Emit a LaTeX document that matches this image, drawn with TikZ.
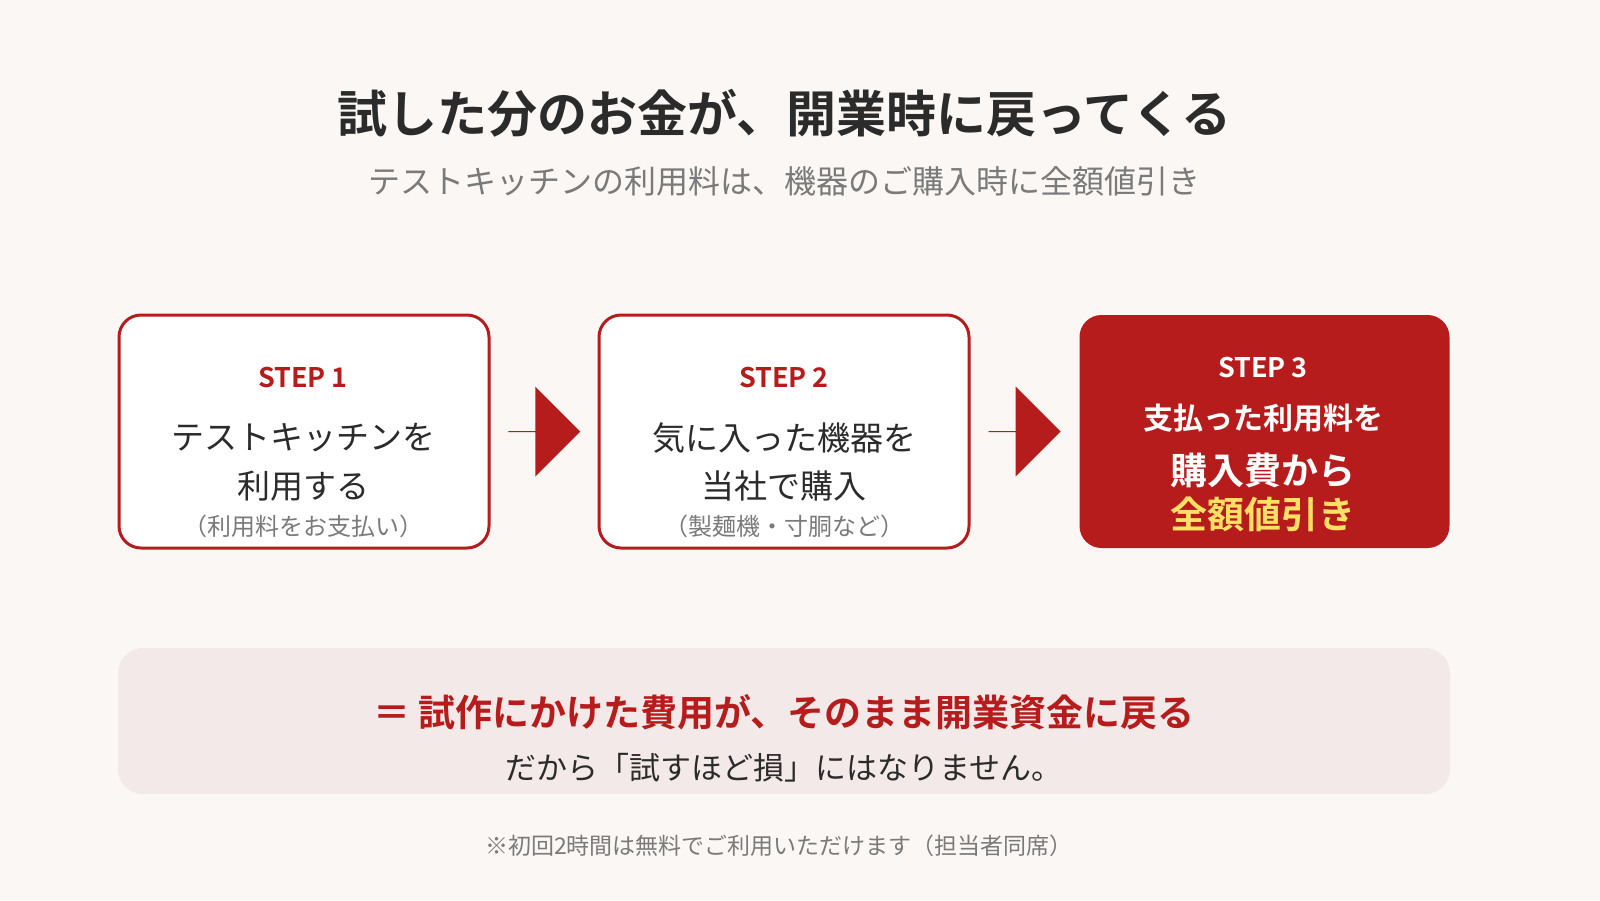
\documentclass[tikz,border=0pt]{standalone}
\usepackage{fontspec}
\setmainfont{Noto Sans CJK JP}[BoldFont={Noto Sans CJK JP Bold}]
\usetikzlibrary{positioning}
\usetikzlibrary{calc}
\usetikzlibrary{shapes.arrows}
\definecolor{bg}{HTML}{FAF7F4}
\definecolor{brand}{HTML}{B71C1C}
\definecolor{ink}{HTML}{2B2B2B}
\definecolor{mute}{HTML}{7A7A7A}
\definecolor{panel}{HTML}{F3E9E8}
\definecolor{gold}{HTML}{FFE066}
\newcommand{\fs}[1]{\fontsize{#1}{#1}\selectfont}

\begin{document}
\begin{tikzpicture}
    [x=1pt, y=-1pt,
      every node/.style={inner sep=0pt, anchor=center},
      stepbox/.style={draw=brand, line width=3pt, fill=white, rounded corners=22pt,
        minimum width=370pt, minimum height=233pt},
      donebox/.style={stepbox, draw=none, fill=brand},
      steplbl/.style={font=\fs{27}\bfseries, text=brand},
      body/.style={font=\fs{33}, text=ink},
      note/.style={font=\fs{24}, text=mute},
      flow/.style={single arrow, fill=brand, minimum height=72pt, minimum width=90pt,
        single arrow head extend=18pt, inner sep=0pt},
     ]
    \fill[bg] (0,0) rectangle (1600,900);

    % heading
    \node[font=\fs{50}\bfseries, text=ink] (title) at (784,113) {試した分のお金が、開業時に戻ってくる};
    \node[font=\fs{32}, text=mute] (sub) at (784,181) {テストキッチンの利用料は、機器のご購入時に全額値引き};

    % steps
    \node[stepbox] (s1) at (304,431.5) {};
    \node[stepbox] (s2) at (784,431.5) {};
    \node[donebox] (s3) at (1264.5,431.5) {};

    \node[steplbl] (s1a) at (303,378) {STEP 1};
    \node[body] (s1b) at (303,438) {テストキッチンを};
    \node[body] (s1c) at (303,486) {利用する};
    \node[note] (s1d) at (303,526) {（利用料をお支払い）};

    \node[steplbl] (s2a) at (784,378) {STEP 2};
    \node[body] (s2b) at (784,438) {気に入った機器を};
    \node[body] (s2c) at (784,486) {当社で購入};
    \node[note] (s2d) at (784,526) {（製麺機・寸胴など）};

    \node[steplbl, text=white] (s3a) at (1263,368) {STEP 3};
    \node[font=\fs{30}\bfseries, text=white] (s3b) at (1263,418) {支払った利用料を};
    \node[font=\fs{37}\bfseries, text=white] (s3c) at (1263,470) {購入費から};
    \node[font=\fs{37}\bfseries, text=gold] (s3d) at (1263,514) {全額値引き};

    \node[flow] (a1) at ($(s1.east)!0.5!(s2.west)$) {};
    \node[flow] (a2) at ($(s2.east)!0.5!(s3.west)$) {};

    % summary
    \node[fill=panel, rounded corners=25pt, minimum width=1332pt, minimum height=146pt] (sum) at (784,721) {};
    \node[font=\fs{37}\bfseries, text=brand] (sum1) at (784,712) {＝ 試作にかけた費用が、そのまま開業資金に戻る};
    \node[font=\fs{31}, text=ink] (sum2) at (784,768) {だから「試すほど損」にはなりません。};

    \node[font=\fs{23}, text=mute] (foot) at (779,846) {※初回2時間は無料でご利用いただけます（担当者同席）};
\end{tikzpicture}
\end{document}
